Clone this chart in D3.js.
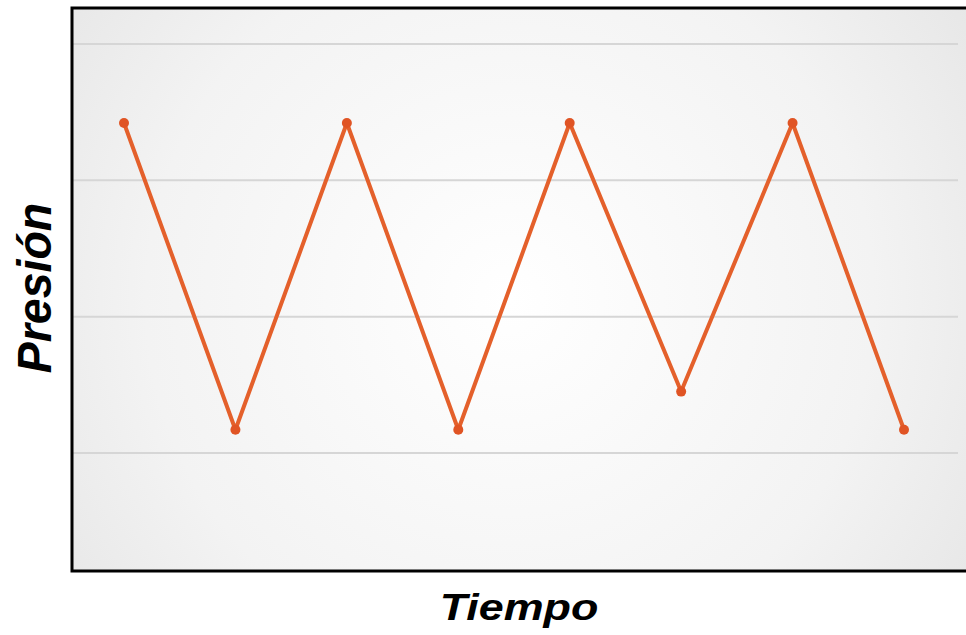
<!DOCTYPE html>
<html><head><meta charset="utf-8">
<script src="https://cdn.jsdelivr.net/npm/d3@7"></script>
<style>html,body{margin:0;padding:0;background:#fff;}svg{display:block;}</style>
</head><body>
<script>
const categories = ["t1","t2","t3","t4","t5","t6","t7","t8"];
const pressure = [3.42, 1.17, 3.42, 1.17, 3.42, 1.45, 3.42, 1.17];
const gridValues = [1, 2, 3, 4];
const xTitle = "Tiempo";
const yTitle = "Presión";

const W = 966, H = 635;
const plot = {left: 72, top: 8, right: 968, bottom: 571};

const svg = d3.select("body").append("svg").attr("width", W).attr("height", H);
const defs = svg.append("defs");
const grad = defs.append("radialGradient").attr("id","bg")
  .attr("gradientUnits","userSpaceOnUse")
  .attr("cx", 510).attr("cy", 300).attr("r", 560);
grad.append("stop").attr("offset","0%").attr("stop-color","#ffffff");
grad.append("stop").attr("offset","65%").attr("stop-color","#f3f3f3");
grad.append("stop").attr("offset","100%").attr("stop-color","#e6e6e6");

const x = d3.scalePoint().domain(categories).range([124, 904]);
const y = d3.scaleLinear().domain([0.134, 4.264]).range([plot.bottom, plot.top]);

svg.append("rect").attr("x", plot.left).attr("y", plot.top)
  .attr("width", plot.right - plot.left).attr("height", plot.bottom - plot.top)
  .attr("fill", "url(#bg)");

svg.append("g").selectAll("line").data(gridValues).join("line")
  .attr("x1", plot.left + 1).attr("x2", 958)
  .attr("y1", d => y(d)).attr("y2", d => y(d))
  .attr("stroke", "#d6d6d6").attr("stroke-width", 2);

const data = categories.map((c, i) => ({c, v: pressure[i]}));
svg.append("path").datum(data)
  .attr("fill","none").attr("stroke","#e4602b").attr("stroke-width",4)
  .attr("stroke-linejoin","round")
  .attr("d", d3.line().x(d => x(d.c)).y(d => y(d.v)));
svg.append("g").selectAll("circle").data(data).join("circle")
  .attr("cx", d => x(d.c)).attr("cy", d => y(d.v)).attr("r", 5)
  .attr("fill", "#e05424");

// border: left, top, bottom
const b = svg.append("g").attr("stroke","#000").attr("stroke-width",3).attr("fill","none");
b.append("path").attr("d", `M${W+5},${plot.top}H${plot.left}V${plot.bottom}H${W+5}`);

svg.append("text")
  .attr("transform", "translate(519,620) scale(1.02,0.86)")
  .attr("text-anchor","middle")
  .attr("font-family","'Liberation Sans', Arial, sans-serif")
  .attr("font-weight","bold").attr("font-style","italic")
  .attr("font-size", 44).attr("fill","#000").text(xTitle);

svg.append("text")
  .attr("transform", "translate(51,288) rotate(-90) scale(0.93,0.95)")
  .attr("text-anchor","middle")
  .attr("font-family","'Liberation Sans', Arial, sans-serif")
  .attr("font-weight","bold").attr("font-style","italic")
  .attr("font-size", 50).attr("fill","#000").text(yTitle);
</script>
</body></html>
